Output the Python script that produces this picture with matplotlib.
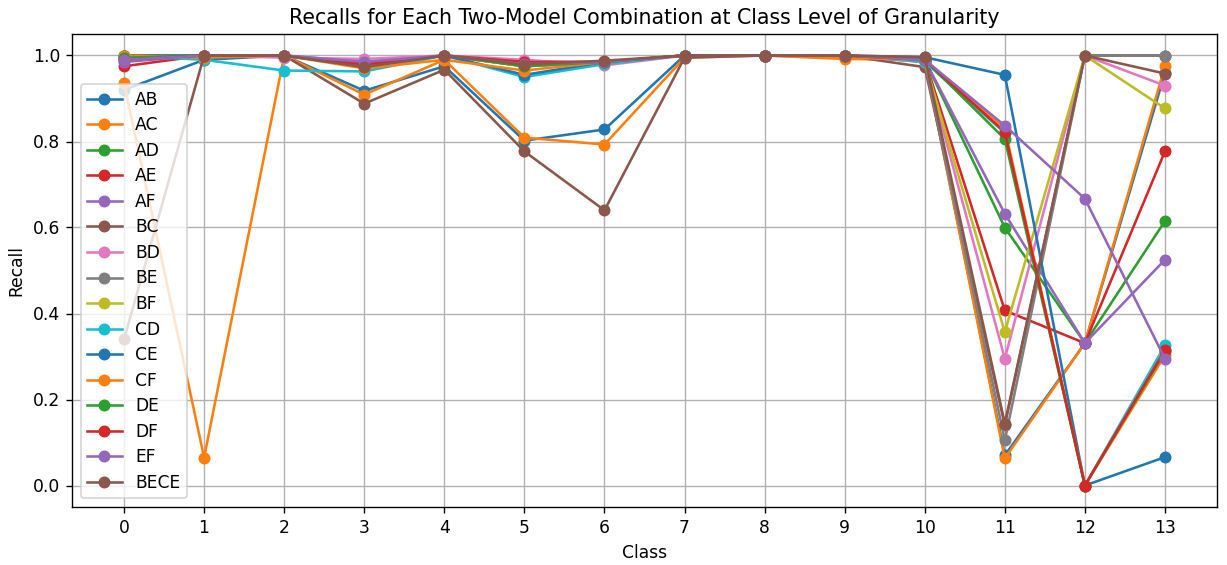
import matplotlib
matplotlib.use("Agg")
import matplotlib.pyplot as plt

classes = list(range(14))

AB   = [0.920, 0.990, 1.000, 0.918, 0.975, 0.802, 0.828, 1.000, 1.000, 1.000, 0.990, 0.070, 0.331, 0.960]
AC   = [0.935, 0.065, 1.000, 0.909, 0.990, 0.809, 0.793, 0.995, 1.000, 0.992, 0.990, 0.063, 0.331, 0.975]
AD   = [0.995, 1.000, 1.000, 0.975, 1.000, 0.975, 0.985, 1.000, 1.000, 1.000, 0.990, 0.600, 0.331, 0.615]
AE   = [0.975, 1.000, 1.000, 0.980, 1.000, 0.985, 0.985, 1.000, 1.000, 1.000, 0.990, 0.407, 0.331, 0.777]
AF   = [0.985, 1.000, 1.000, 0.985, 1.000, 0.980, 0.985, 1.000, 1.000, 1.000, 0.990, 0.632, 0.331, 0.525]
BC   = [1.000, 1.000, 1.000, 0.888, 0.967, 0.777, 0.640, 0.995, 1.000, 1.000, 0.973, 0.140, 1.000, 1.000]
BD   = [1.000, 1.000, 0.995, 0.992, 1.000, 0.990, 0.977, 1.000, 1.000, 1.000, 0.985, 0.295, 1.000, 0.930]
BE   = [1.000, 1.000, 1.000, 0.975, 1.000, 0.975, 0.985, 1.000, 1.000, 1.000, 0.985, 0.105, 1.000, 1.000]
BF   = [1.000, 1.000, 1.000, 0.975, 1.000, 0.975, 0.985, 1.000, 1.000, 1.000, 0.985, 0.357, 1.000, 0.877]
CD   = [1.000, 0.990, 0.965, 0.963, 1.000, 0.950, 0.980, 1.000, 1.000, 1.000, 0.985, 0.820, 0.000, 0.326]
CE   = [1.000, 1.000, 1.000, 0.975, 1.000, 0.955, 0.985, 1.000, 1.000, 1.000, 0.996, 0.955, 0.000, 0.066]
CF   = [1.000, 0.995, 1.000, 0.970, 0.990, 0.965, 0.985, 1.000, 1.000, 0.995, 0.990, 0.830, 0.000, 0.303]
DE   = [0.995, 1.000, 1.000, 0.975, 1.000, 0.975, 0.985, 1.000, 1.000, 1.000, 0.990, 0.806, 0.000, 0.312]
DF   = [0.990, 1.000, 1.000, 0.980, 1.000, 0.985, 0.985, 1.000, 1.000, 1.000, 0.990, 0.822, 0.000, 0.315]
EF   = [0.990, 1.000, 1.000, 0.985, 1.000, 0.980, 0.985, 1.000, 1.000, 1.000, 0.990, 0.837, 0.667, 0.295]
BECE = [0.340, 1.000, 1.000, 0.973, 1.000, 0.979, 0.988, 1.000, 1.000, 1.000, 0.996, 0.144, 1.000, 0.958]

names = ["AB", "AC", "AD", "AE", "AF", "BC", "BD", "BE", "BF", "CD",
         "CE", "CF", "DE", "DF", "EF", "BECE"]
series = [AB, AC, AD, AE, AF, BC, BD, BE, BF, CD, CE, CF, DE, DF, EF, BECE]

DPI = 123
fig = plt.figure(figsize=(1227 / DPI, 565 / DPI), dpi=DPI)
ax = fig.add_axes([72/1227, 1-507/565, (1217-72)/1227, (507-34)/565])

for name, vals in zip(names, series):
    ax.plot(classes, vals, marker='o', label=name)

ax.set_title("Recalls for Each Two-Model Combination at Class Level of Granularity")
ax.set_xlabel("Class")
ax.set_ylabel("Recall")
ax.set_xticks(classes)
ax.grid(True)
ax.legend(loc='lower left', labelspacing=0.44)

fig.savefig("out.png", dpi=DPI)
